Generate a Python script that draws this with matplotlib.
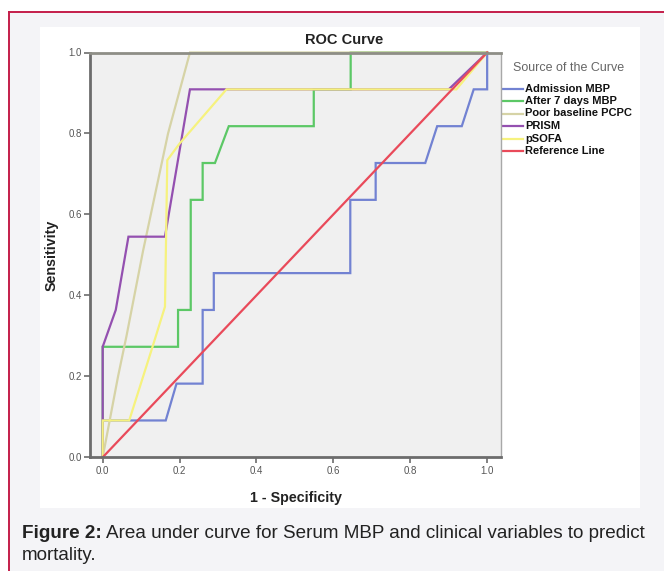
import matplotlib
matplotlib.use("Agg")
import matplotlib.pyplot as plt
from matplotlib.patches import Rectangle
from matplotlib.lines import Line2D

plt.rcParams['font.family'] = ['Liberation Sans', 'DejaVu Sans']

# ---- data ----
series_names = ["Admission MBP", "After 7 days MBP", "Poor baseline PCPC", "PRISM", "pSOFA", "Reference Line"]

adm_fpr = [0, 0, 0.164, 0.192, 0.26, 0.26, 0.289, 0.289, 0.644, 0.644, 0.71, 0.71, 0.839, 0.87, 0.934, 0.965, 1.0, 1.0]
adm_tpr = [0, 0.091, 0.091, 0.182, 0.182, 0.364, 0.364, 0.455, 0.455, 0.636, 0.636, 0.727, 0.727, 0.818, 0.818, 0.909, 0.909, 1.0]

d7_fpr = [0, 0, 0.196, 0.196, 0.229, 0.229, 0.26, 0.26, 0.292, 0.328, 0.549, 0.549, 0.645, 0.645, 1.0]
d7_tpr = [0, 0.273, 0.273, 0.364, 0.364, 0.636, 0.636, 0.727, 0.727, 0.818, 0.818, 0.909, 0.909, 1.0, 1.0]

pcpc_fpr = [0, 0.04, 0.062, 0.105, 0.17, 0.227, 1.0]
pcpc_tpr = [0, 0.2, 0.3, 0.51, 0.8, 1.0, 1.0]

prism_fpr = [0, 0, 0.034, 0.067, 0.162, 0.227, 0.9, 1.0]
prism_tpr = [0, 0.273, 0.364, 0.545, 0.545, 0.909, 0.909, 1.0]

psofa_fpr = [0, 0, 0.069, 0.127, 0.162, 0.165, 0.168, 0.2, 0.322, 0.92, 1.0]
psofa_tpr = [0, 0.091, 0.091, 0.265, 0.372, 0.55, 0.734, 0.775, 0.909, 0.909, 1.0]

ref_fpr = [0, 1]
ref_tpr = [0, 1]

x_ticks = [0.0, 0.2, 0.4, 0.6, 0.8, 1.0]
y_ticks = [0.0, 0.2, 0.4, 0.6, 0.8, 1.0]

caption_bold = "Figure 2:"
caption_line1 = "Area under curve for Serum MBP and clinical variables to predict"
caption_line2 = "mortality."

colors = ["#7282d2", "#5cc866", "#d6d3a6", "#9450b0", "#f6f27e", "#e94a5a"]

W, H = 664, 571
fig = plt.figure(figsize=(W / 100, H / 100), dpi=100)
fig.patch.set_facecolor("white")

# background panels
bg = fig.add_axes([0, 0, 1, 1])
bg.set_xlim(0, W)
bg.set_ylim(H, 0)
bg.axis("off")
bg.add_patch(Rectangle((9, 12), W - 9, H - 12, facecolor="#f4f4f7", edgecolor="none"))
bg.add_patch(Rectangle((40, 27), 600, 481, facecolor="white", edgecolor="none"))
bg.plot([9, 9], [12, H], color="#c41e4a", lw=1.4)
bg.plot([9, W], [12, 12], color="#c41e4a", lw=1.4)

ax = fig.add_axes([90 / W, 1 - 457.3 / H, 411 / W, (457.3 - 52.5) / H])
ax.set_facecolor("#f0f0f0")
ax.set_xlim(-0.033, 1.036)
ax.set_ylim(0, 1.0)

data = [(adm_fpr, adm_tpr), (d7_fpr, d7_tpr), (pcpc_fpr, pcpc_tpr),
        (prism_fpr, prism_tpr), (psofa_fpr, psofa_tpr), (ref_fpr, ref_tpr)]
for (xs, ys), c in zip(data, colors):
    ax.plot(xs, ys, color=c, lw=1.6, solid_joinstyle="miter", clip_on=False)

for s in ["left", "bottom"]:
    ax.spines[s].set_color("#6c6c6c")
    ax.spines[s].set_linewidth(2.0)
ax.spines["top"].set_color("#8e8e86")
ax.spines["top"].set_linewidth(2.0)
ax.spines["right"].set_color("#a8a8a8")
ax.spines["right"].set_linewidth(1.0)

ax.set_xticks(x_ticks)
ax.set_yticks(y_ticks)
ax.set_xticklabels([f"{v:.1f}" for v in x_ticks])
ax.set_yticklabels([f"{v:.1f}" for v in y_ticks])
ax.tick_params(axis="both", direction="out", length=4, width=1.2, color="#6c6c6c",
               labelsize=7, labelcolor="#555555", pad=2)

ax.set_xlabel("1 - Specificity", fontsize=10.3, fontweight="bold", color="#222222", labelpad=11)
ax.set_ylabel("Sensitivity", fontsize=10.3, fontweight="bold", color="#222222", labelpad=7)

fig.text(344 / W, 1 - 40 / H, "ROC Curve", ha="center", va="center", fontsize=10.5,
         fontweight="bold", color="#222222")

# legend
fig.text(513 / W, 1 - 68 / H, "Source of the Curve", ha="left", va="center", fontsize=9, color="#666666")
rows = [88.5, 101, 113.5, 126, 138.5, 151]
for name, c, yy in zip(series_names, colors, rows):
    bg.add_line(Line2D([503, 523], [yy, yy], color=c, lw=1.6))
    bg.text(525, yy, name, ha="left", va="center", fontsize=8, fontweight="bold", color="#111111")

# caption: fit line 1 to span x = 22 .. 652 px
renderer = fig.canvas.get_renderer()
fs = 10.0
tb = fig.text(22 / W, 1 - 534 / H, caption_bold, ha="left", va="center", fontsize=fs,
              fontweight="bold", color="#222222")
tr = fig.text(0, 1 - 534 / H, caption_line1, ha="left", va="center", fontsize=fs, color="#222222")
wb = tb.get_window_extent(renderer).width
wr = tr.get_window_extent(renderer).width
space = fs * 0.28
scale = (652 - 22) / (wb + space + wr)
fs2 = fs * scale
tb.set_fontsize(fs2)
tr.set_fontsize(fs2)
wb2 = tb.get_window_extent(renderer).width
tr.set_x((22 + wb2 + space * scale) / W)
fig.text(22 / W, 1 - 556 / H, caption_line2, ha="left", va="center", fontsize=fs2, color="#222222")

fig.savefig("out.png", dpi=100)
